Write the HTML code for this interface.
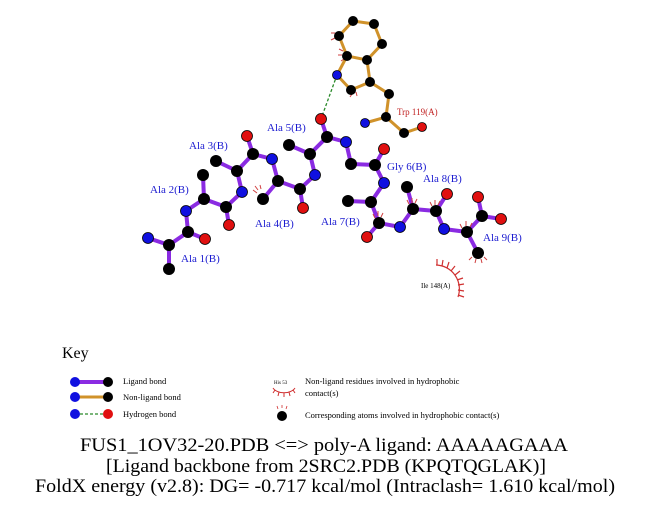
<!DOCTYPE html>
<html><head><meta charset="utf-8"><style>
html,body{margin:0;padding:0;background:#fff;}
svg{display:block;font-family:"Liberation Serif",serif;}
</style></head><body>
<svg width="651" height="511" viewBox="0 0 651 511" xmlns="http://www.w3.org/2000/svg">
<g stroke="#d0922a" stroke-width="3" fill="none">
<polyline points="353,21 374,24 382,44 367,60 347,56 339,36 353,21"/>
<polyline points="347,56 337,75 351,90 370,82 367,60"/>
<polyline points="370,82 389,94 386,117 404,133 422,127"/>
<line x1="386" y1="117" x2="365" y2="123"/>
</g>
<line x1="337" y1="75" x2="321" y2="119" stroke="#2a8a2a" stroke-width="1.3" stroke-dasharray="3,2"/>
<g stroke="#8a2be2" stroke-width="4" fill="none">
<polyline points="148,238 169,245 188,232 186,211 204,199 226,207 242,192 237,171 253,154 272,159 278,181 300,189 315,175 310,154 327,137 346,142 351,164 375,165 384,183 371,202 379,223 400,227 413,209 436,211 444,229 467,232 482,216 501,219"/>
<line x1="169" y1="245" x2="169" y2="269"/>
<line x1="188" y1="232" x2="205" y2="239"/>
<line x1="204" y1="199" x2="203" y2="175"/>
<line x1="226" y1="207" x2="229" y2="225"/>
<line x1="237" y1="171" x2="216" y2="161"/>
<line x1="253" y1="154" x2="247" y2="136"/>
<line x1="278" y1="181" x2="263" y2="199"/>
<line x1="300" y1="189" x2="303" y2="208"/>
<line x1="310" y1="154" x2="289" y2="145"/>
<line x1="327" y1="137" x2="321" y2="119"/>
<line x1="375" y1="165" x2="384" y2="149"/>
<line x1="371" y1="202" x2="348" y2="201"/>
<line x1="379" y1="223" x2="367" y2="237"/>
<line x1="413" y1="209" x2="407" y2="187"/>
<line x1="436" y1="211" x2="447" y2="194"/>
<line x1="467" y1="232" x2="478" y2="253"/>
<line x1="482" y1="216" x2="478" y2="197"/>
</g>
<g stroke="#d04040" stroke-width="1" fill="none">
<path d="M257,193 l-4,-3 M258,190 l-3,-4 M261,189 l-1,-4"/>
<path d="M375,218 l-2,-4 M378,216 l0,-5 M381,217 l2,-4"/>
<path d="M409,204 l-2,-4 M412,203 l0,-5 M415,203 l2,-4"/>
<path d="M432,206 l-2,-4 M435,205 l0,-5 M438,205 l2,-4"/>
<path d="M462,228 l-2,-4 M466,226 l0,-5 M470,227 l2,-4"/>
<path d="M472,257 l-3,3 M476,259 l-1,4 M481,259 l1,4 M484,257 l3,3"/>
<path d="M343,51 l-4,-2 M342,55 l-4,0 M344,59 l-3,2 M335,33 l-4,0 M335,38 l-4,2 M352,94 l-2,3 M356,92 l1,4"/>
</g>
<g fill="#000">
<circle cx="353" cy="21" r="5"/><circle cx="374" cy="24" r="5"/><circle cx="382" cy="44" r="5"/><circle cx="367" cy="60" r="5"/><circle cx="347" cy="56" r="5"/><circle cx="339" cy="36" r="5"/><circle cx="351" cy="90" r="5"/><circle cx="370" cy="82" r="5"/><circle cx="389" cy="94" r="5"/><circle cx="386" cy="117" r="5"/><circle cx="404" cy="133" r="5"/>
<circle cx="169" cy="245" r="6"/><circle cx="169" cy="269" r="6"/><circle cx="188" cy="232" r="6"/><circle cx="204" cy="199" r="6"/><circle cx="203" cy="175" r="6"/><circle cx="226" cy="207" r="6"/><circle cx="237" cy="171" r="6"/><circle cx="216" cy="161" r="6"/><circle cx="253" cy="154" r="6"/><circle cx="278" cy="181" r="6"/><circle cx="263" cy="199" r="6"/><circle cx="300" cy="189" r="6"/><circle cx="310" cy="154" r="6"/><circle cx="289" cy="145" r="6"/><circle cx="327" cy="137" r="6"/><circle cx="351" cy="164" r="6"/><circle cx="375" cy="165" r="6"/><circle cx="371" cy="202" r="6"/><circle cx="348" cy="201" r="6"/><circle cx="379" cy="223" r="6"/><circle cx="413" cy="209" r="6"/><circle cx="407" cy="187" r="6"/><circle cx="436" cy="211" r="6"/><circle cx="467" cy="232" r="6"/><circle cx="478" cy="253" r="6"/><circle cx="482" cy="216" r="6"/>
</g>
<g fill="#1010e0" stroke="#000" stroke-width="0.8">
<circle cx="337" cy="75" r="4.5"/><circle cx="365" cy="123" r="4.5"/>
<circle cx="148" cy="238" r="5.5"/><circle cx="186" cy="211" r="5.5"/><circle cx="242" cy="192" r="5.5"/><circle cx="272" cy="159" r="5.5"/><circle cx="315" cy="175" r="5.5"/><circle cx="346" cy="142" r="5.5"/><circle cx="384" cy="183" r="5.5"/><circle cx="400" cy="227" r="5.5"/><circle cx="444" cy="229" r="5.5"/>
</g>
<g fill="#e01010" stroke="#000" stroke-width="0.8">
<circle cx="422" cy="127" r="4.5"/>
<circle cx="321" cy="119" r="5.5"/><circle cx="205" cy="239" r="5.5"/><circle cx="229" cy="225" r="5.5"/><circle cx="247" cy="136" r="5.5"/><circle cx="303" cy="208" r="5.5"/><circle cx="384" cy="149" r="5.5"/><circle cx="367" cy="237" r="5.5"/><circle cx="447" cy="194" r="5.5"/><circle cx="478" cy="197" r="5.5"/><circle cx="501" cy="219" r="5.5"/>
</g>
<g stroke="#d03030" stroke-width="1.2" fill="none">
<path d="M436,265 A24,24 0 0 1 458,297"/>
<path d="M437,265 l0,-6 M442,266 l1,-6 M447,268 l2,-6 M451,271 l4,-5 M455,275 l5,-4 M457,280 l6,-2 M458,285 l6,-1 M458,290 l6,1 M458,295 l6,2"/>
</g>
<text x="421" y="288" font-size="7" fill="#000">Ile 148(A)</text>
<g font-size="11" fill="#1a1ad0">
<text x="181" y="262">Ala 1(B)</text>
<text x="150" y="193">Ala 2(B)</text>
<text x="189" y="149">Ala 3(B)</text>
<text x="255" y="227">Ala 4(B)</text>
<text x="267" y="131">Ala 5(B)</text>
<text x="387" y="170">Gly 6(B)</text>
<text x="321" y="225">Ala 7(B)</text>
<text x="423" y="182">Ala 8(B)</text>
<text x="483" y="241">Ala 9(B)</text>
</g>
<text x="397" y="115" font-size="9" fill="#c02020">Trp 119(A)</text>
<text x="62" y="358" font-size="16" fill="#000">Key</text>
<line x1="75" y1="382" x2="108" y2="382" stroke="#8a2be2" stroke-width="4"/>
<circle cx="75" cy="382" r="5" fill="#1010e0"/><circle cx="108" cy="382" r="5" fill="#000"/>
<line x1="75" y1="397" x2="108" y2="397" stroke="#d0922a" stroke-width="3"/>
<circle cx="75" cy="397" r="5" fill="#1010e0"/><circle cx="108" cy="397" r="5" fill="#000"/>
<line x1="75" y1="414" x2="108" y2="414" stroke="#2a8a2a" stroke-width="1.2" stroke-dasharray="3,2"/>
<circle cx="75" cy="414" r="5" fill="#1010e0"/><circle cx="108" cy="414" r="5" fill="#e01010"/>
<g font-size="8.5" fill="#000">
<text x="123" y="384">Ligand bond</text>
<text x="123" y="400">Non-ligand bond</text>
<text x="123" y="417">Hydrogen bond</text>
<text x="305" y="384">Non-ligand residues involved in hydrophobic</text>
<text x="305" y="396">contact(s)</text>
<text x="305" y="418">Corresponding atoms involved in hydrophobic contact(s)</text>
<text x="274" y="384" font-size="5">His 53</text>
</g>
<path d="M273,388 A12,8 0 0 0 295,388 M275,390 l-2,3 M279,392 l-1,4 M284,393 l0,4 M289,392 l1,4 M293,390 l2,3" stroke="#d03030" stroke-width="1" fill="none"/>
<circle cx="282" cy="416" r="5" fill="#000"/>
<path d="M278,409 l-1,-3 M282,408 l0,-3 M286,409 l1,-3" stroke="#d03030" stroke-width="0.8"/>
<g font-size="19" fill="#000" text-anchor="middle">
<text x="324" y="451" textLength="488" lengthAdjust="spacingAndGlyphs">FUS1_1OV32-20.PDB &lt;=&gt; poly-A ligand: AAAAAGAAA</text>
<text x="326" y="472" textLength="440" lengthAdjust="spacingAndGlyphs">[Ligand backbone from 2SRC2.PDB (KPQTQGLAK)]</text>
<text x="325" y="492" textLength="580" lengthAdjust="spacingAndGlyphs">FoldX energy (v2.8): DG= -0.717 kcal/mol (Intraclash= 1.610 kcal/mol)</text>
</g>
</svg>
</body></html>
